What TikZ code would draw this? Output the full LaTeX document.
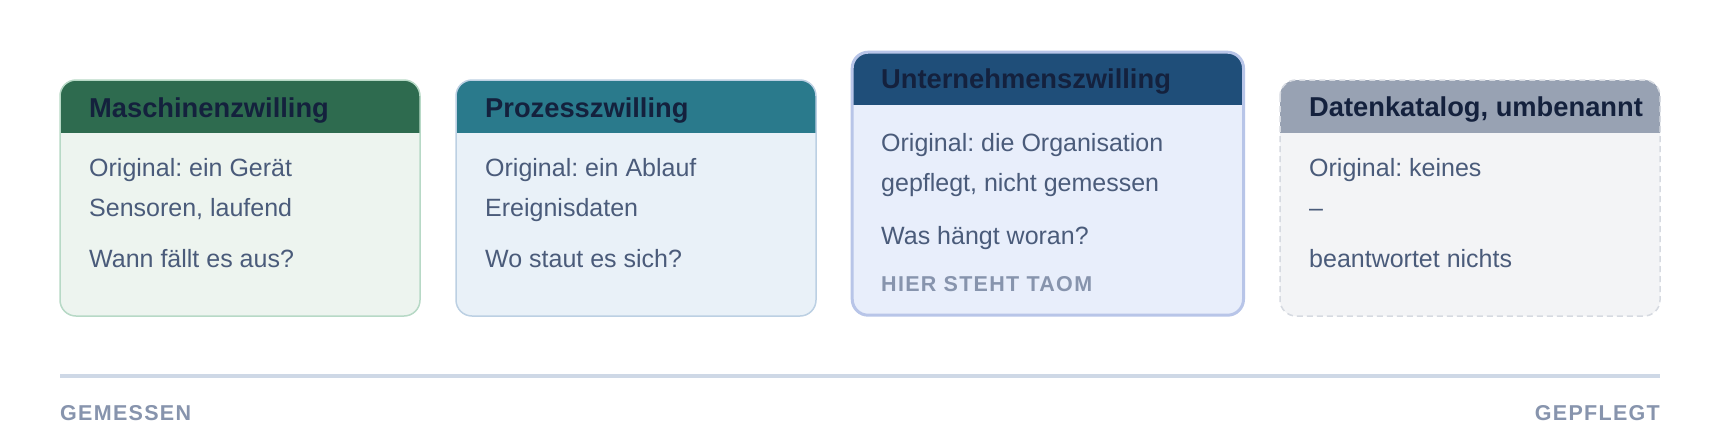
\documentclass[tikz,border=0pt]{standalone}
\usepackage{xcolor}
\usepackage{fontspec}
\setmainfont{Liberation Sans}
\newfontfamily\capsfont[LetterSpace=6]{Liberation Sans}
\usepackage{tikz}
\frenchspacing

\definecolor{titleink}{HTML}{14213D}
\definecolor{bodyink}{HTML}{4A5B7A}
\definecolor{mutedink}{HTML}{8794AD}
\definecolor{axisline}{HTML}{CED8E6}
\definecolor{maschhead}{HTML}{2E6B4F}
\definecolor{maschfill}{HTML}{EDF4EF}
\definecolor{maschline}{HTML}{B7D9C6}
\definecolor{prozhead}{HTML}{2A7A8C}
\definecolor{prozfill}{HTML}{E9F1F8}
\definecolor{prozline}{HTML}{BCD0E3}
\definecolor{unthead}{HTML}{1F4E79}
\definecolor{untfill}{HTML}{E8EEFB}
\definecolor{untline}{HTML}{B8C5E8}
\definecolor{kathead}{HTML}{98A2B3}
\definecolor{katfill}{HTML}{F3F4F6}
\definecolor{katline}{HTML}{D6DAE1}

\begin{document}
\begin{tikzpicture}[x=1pt,y=-1pt,
    card/.style={line width=1.5pt,rounded corners=16pt},
    title/.style={anchor=base west,inner sep=0pt,text=titleink,font=\fontsize{27.3}{32}\selectfont\bfseries},
    body/.style={anchor=base west,inner sep=0pt,text=bodyink,font=\fontsize{25}{30}\selectfont},
    tag/.style={inner sep=0pt,text=mutedink,font=\capsfont\fontsize{21.5}{26}\selectfont\bfseries}]
    \fill[white] (0,0) rectangle (1720,440);
    \useasboundingbox (0,0) rectangle (1720,440);

    % card bodies and headers
    \foreach \l/\t/\r/\b/\h/\k in {60/80/420/316/132/masch, 456/80/816/316/132/proz,
        852.2/52.2/1243.5/315.2/104/unt, 1280/80/1660/316/132/kat}{
      \fill[fill=\k fill,rounded corners=16pt] (\l,\t) rectangle (\r,\b);
      \begin{scope}
        \clip (\l-5,\t-5) rectangle (\r+5,\h);
        \fill[fill=\k head,rounded corners=16pt] (\l,\t) rectangle (\r,\b);
      \end{scope}
    }
    \draw[card,draw=maschline] (60,80) rectangle (420,316);
    \draw[card,draw=prozline] (456,80) rectangle (816,316);
    \draw[card,draw=untline,line width=3pt] (852.2,52.2) rectangle (1243.5,315.2);
    \draw[card,draw=katline,dash pattern=on 6pt off 4pt] (1280,80) rectangle (1660,316);

    \node[title] (masch) at (89,117) {Maschinenzwilling};
    \node[body] (masch1) at (89,176) {Original: ein Gerät};
    \node[body] (masch2) at (89,216) {Sensoren, laufend};
    \node[body] (masch3) at (89,267) {Wann fällt es aus?};

    \node[title] (proz) at (485,117) {Prozesszwilling};
    \node[body] (proz1) at (485,176) {Original: ein Ablauf};
    \node[body] (proz2) at (485,216) {Ereignisdaten};
    \node[body] (proz3) at (485,267) {Wo staut es sich?};

    \node[title] (unt) at (881,88.3) {Unternehmenszwilling};
    \node[body] (unt1) at (881,151.7) {Original: die Organisation};
    \node[body] (unt2) at (881,191.7) {gepflegt, nicht gemessen};
    \node[body] (unt3) at (881,244) {Was hängt woran?};
    \node[tag,anchor=base west] (unt4) at (881,291.7) {HIER STEHT TAOM};

    \node[title] (kat) at (1309,116.5) {Datenkatalog, umbenannt};
    \node[body] (kat1) at (1309,176) {Original: keines};
    \node[body] (kat2) at (1309,216) {–};
    \node[body] (kat3) at (1309,267) {beantwortet nichts};

    % axis
    \coordinate (axl) at (60,376);
    \coordinate (axr) at (1660,376);
    \draw[axisline,line width=3.3pt] (axl) -- (axr);
    \node[tag,anchor=base west] (gemessen) at (60,420) {GEMESSEN};
    \node[tag,anchor=base east] (gepflegt) at (1660,420) {GEPFLEGT};
\end{tikzpicture}
\end{document}
